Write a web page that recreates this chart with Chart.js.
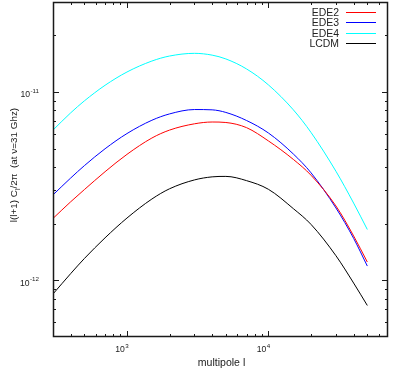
<!DOCTYPE html>
<html>
<head>
<meta charset="utf-8">
<script src="https://cdn.jsdelivr.net/npm/chart.js@4.4.0/dist/chart.umd.min.js"></script>
<style>
  html, body { margin: 0; padding: 0; background: #fff; }
  canvas { display: block; }
</style>
</head>
<body>
<canvas id="chart" width="407" height="369"></canvas>
<script>
// multipole l and the spectra
const ells = [300, 400, 500, 700, 1000, 1500, 2000, 3000, 4000, 5000, 7000, 10000, 15000, 20000, 30000, 40000, 50000];
const ede2 = [2.13e-12, 2.61e-12, 3.03e-12, 3.77e-12, 4.66e-12, 5.69e-12, 6.27e-12, 6.77e-12, 6.92e-12, 6.88e-12, 6.46e-12, 5.49e-12, 4.38e-12, 3.61e-12, 2.48e-12, 1.72e-12, 1.25e-12];
const ede3 = [2.84e-12, 3.49e-12, 4.06e-12, 4.99e-12, 6.01e-12, 7.07e-12, 7.64e-12, 8.06e-12, 8.03e-12, 7.78e-12, 7.05e-12, 6.05e-12, 4.68e-12, 3.72e-12, 2.42e-12, 1.67e-12, 1.19e-12];
const ede4 = [6.27e-12, 7.74e-12, 8.96e-12, 1.084e-11, 1.275e-11, 1.458e-11, 1.550e-11, 1.602e-11, 1.567e-11, 1.496e-11, 1.324e-11, 1.089e-11, 8.03e-12, 6.09e-12, 3.79e-12, 2.57e-12, 1.86e-12];
const lcdm = [8.46e-13, 1.085e-12, 1.305e-12, 1.68e-12, 2.14e-12, 2.70e-12, 3.06e-12, 3.41e-12, 3.54e-12, 3.56e-12, 3.38e-12, 3.04e-12, 2.40e-12, 1.98e-12, 1.35e-12, 9.67e-13, 7.35e-13];

const seriesNames = ['EDE2', 'EDE3', 'EDE4', 'LCDM'];
const seriesColors = ['#ff0000', '#0000ff', '#00ffff', '#000000'];

const xMajor = [1000, 10000];
const xMajorExp = ['3', '4'];
const yMajor = [1e-12, 1e-11];
const yMajorExp = ['-12', '-11'];

const FONT = '"Liberation Sans", Arial, sans-serif';

function toPoints(ys) {
  return ells.map((l, i) => ({ x: l, y: ys[i] }));
}

// minor ticks 2..9 per decade, inside the axis range
function minorTicks(min, max) {
  const out = [];
  for (let d = Math.floor(Math.log10(min)); d <= Math.ceil(Math.log10(max)); d++) {
    for (let m = 2; m <= 9; m++) {
      const v = m * Math.pow(10, d);
      if (v > min * 1.0001 && v < max * 0.9999) out.push(v);
    }
  }
  return out;
}

// font size that makes `text` about `target` px wide (gnuplot's font is a bit narrow)
function fitSize(ctx, text, target) {
  ctx.font = '10px ' + FONT;
  return 10 * target / ctx.measureText(text).width;
}

// "10" with a small raised exponent
function drawPow(ctx, exp, x, y, align, size) {
  const small = size * 0.72;
  ctx.font = size + 'px ' + FONT;
  const wBase = ctx.measureText('10').width;
  ctx.font = small + 'px ' + FONT;
  const wExp = ctx.measureText(exp).width;
  const total = wBase + wExp + 0.5;
  let x0 = x;
  if (align === 'center') x0 = x - total / 2;
  if (align === 'right') x0 = x - total;
  ctx.textAlign = 'left';
  ctx.textBaseline = 'alphabetic';
  ctx.font = size + 'px ' + FONT;
  ctx.fillText('10', x0, y);
  ctx.font = small + 'px ' + FONT;
  ctx.fillText(exp, x0 + wBase + 0.5, y - 4.5);
}

const gnuplotFrame = {
  id: 'gnuplotFrame',
  afterDraw(chart) {
    const ctx = chart.ctx;
    const a = chart.chartArea;
    const xs = chart.scales.x;
    const ys = chart.scales.y;
    const L = Math.round(a.left), R = Math.round(a.right);
    const T = Math.round(a.top), B = Math.round(a.bottom);
    ctx.save();
    ctx.setLineDash([]);

    // border
    ctx.strokeStyle = '#1a1a1a';
    ctx.lineWidth = 1.5;
    ctx.beginPath();
    ctx.rect(L + 0.5, T + 0.5, R - L - 1, B - T - 1);
    ctx.stroke();

    // inward ticks on all four sides
    ctx.lineWidth = 1;
    ctx.beginPath();
    const tickX = (v, len) => {
      const px = Math.round(xs.getPixelForValue(v)) + 0.5;
      ctx.moveTo(px, B); ctx.lineTo(px, B - len);
      ctx.moveTo(px, T); ctx.lineTo(px, T + len);
    };
    const tickY = (v, len) => {
      const py = Math.round(ys.getPixelForValue(v)) + 0.5;
      ctx.moveTo(L, py); ctx.lineTo(L + len, py);
      ctx.moveTo(R, py); ctx.lineTo(R - len, py);
    };
    xMajor.forEach(v => tickX(v, 6));
    minorTicks(xs.min, xs.max).filter(v => !xMajor.some(m => Math.abs(m - v) / m < 1e-6)).forEach(v => tickX(v, 3));
    yMajor.forEach(v => tickY(v, 6));
    minorTicks(ys.min, ys.max).filter(v => !yMajor.some(m => Math.abs(m - v) / m < 1e-6)).forEach(v => tickY(v, 3));
    ctx.stroke();

    // tick labels
    ctx.fillStyle = '#222';
    const tickSize = Math.min(10, fitSize(ctx, '10', 9.6));
    xMajor.forEach((v, i) => drawPow(ctx, xMajorExp[i], xs.getPixelForValue(v) - 5, B + 15, 'center', tickSize));
    yMajor.forEach((v, i) => drawPow(ctx, yMajorExp[i], L - 14, ys.getPixelForValue(v) + 5.5, 'right', tickSize));

    // x title
    ctx.font = fitSize(ctx, 'multipole l', 47.5) + 'px ' + FONT;
    ctx.textAlign = 'center';
    ctx.textBaseline = 'alphabetic';
    ctx.fillText('multipole l', (L + R) / 2 + 1, 366);

    // y title, rotated, with subscript l
    ctx.save();
    ctx.translate(17, 165);
    ctx.rotate(-Math.PI / 2);
    const p1 = 'l(l+1) C', p2 = 'l', p3 = '/2\u03c0  (at \u03bd=31 Ghz)';
    const ts = fitSize(ctx, p1 + p3, 113);
    ctx.font = ts + 'px ' + FONT;
    const w1 = ctx.measureText(p1).width, w3 = ctx.measureText(p3).width;
    ctx.font = (ts * 0.7) + 'px ' + FONT;
    const w2 = ctx.measureText(p2).width;
    let cx = -(w1 + w2 + w3) / 2;
    ctx.textAlign = 'left';
    ctx.font = ts + 'px ' + FONT;
    ctx.fillText(p1, cx, 0); cx += w1;
    ctx.font = (ts * 0.7) + 'px ' + FONT;
    ctx.fillText(p2, cx, 2.5); cx += w2;
    ctx.font = ts + 'px ' + FONT;
    ctx.fillText(p3, cx, 0);
    ctx.restore();

    // legend: right-aligned text, sample line to the right
    ctx.font = fitSize(ctx, 'EDE2', 27.3) + 'px ' + FONT;
    ctx.textAlign = 'right';
    chart.data.datasets.forEach((ds, i) => {
      const yc = Math.round(12 + i * 10.33);
      ctx.fillStyle = '#222';
      ctx.fillText(ds.label, 339, yc + 4);
      ctx.strokeStyle = ds.borderColor;
      ctx.lineWidth = 1;
      ctx.beginPath();
      ctx.moveTo(346, yc + 0.5);
      ctx.lineTo(376, yc + 0.5);
      ctx.stroke();
    });

    ctx.restore();
  }
};

const allSeries = [ede2, ede3, ede4, lcdm];

new Chart(document.getElementById('chart').getContext('2d'), {
  type: 'line',
  data: {
    datasets: allSeries.map((s, i) => ({
      label: seriesNames[i],
      data: toPoints(s),
      borderColor: seriesColors[i],
      borderWidth: 1,
      fill: false,
      cubicInterpolationMode: 'monotone',
      pointRadius: 0,
    })),
  },
  options: {
    responsive: false,
    animation: false,
    devicePixelRatio: 1,
    layout: { padding: { left: 53, right: 19, top: 2, bottom: 32 } },
    scales: {
      x: { type: 'logarithmic', min: 300, max: 70000, display: false },
      y: { type: 'logarithmic', min: 5e-13, max: 3e-11, display: false },
    },
    plugins: {
      legend: { display: false },
      tooltip: { enabled: false },
    },
  },
  plugins: [gnuplotFrame],
});
</script>
</body>
</html>
